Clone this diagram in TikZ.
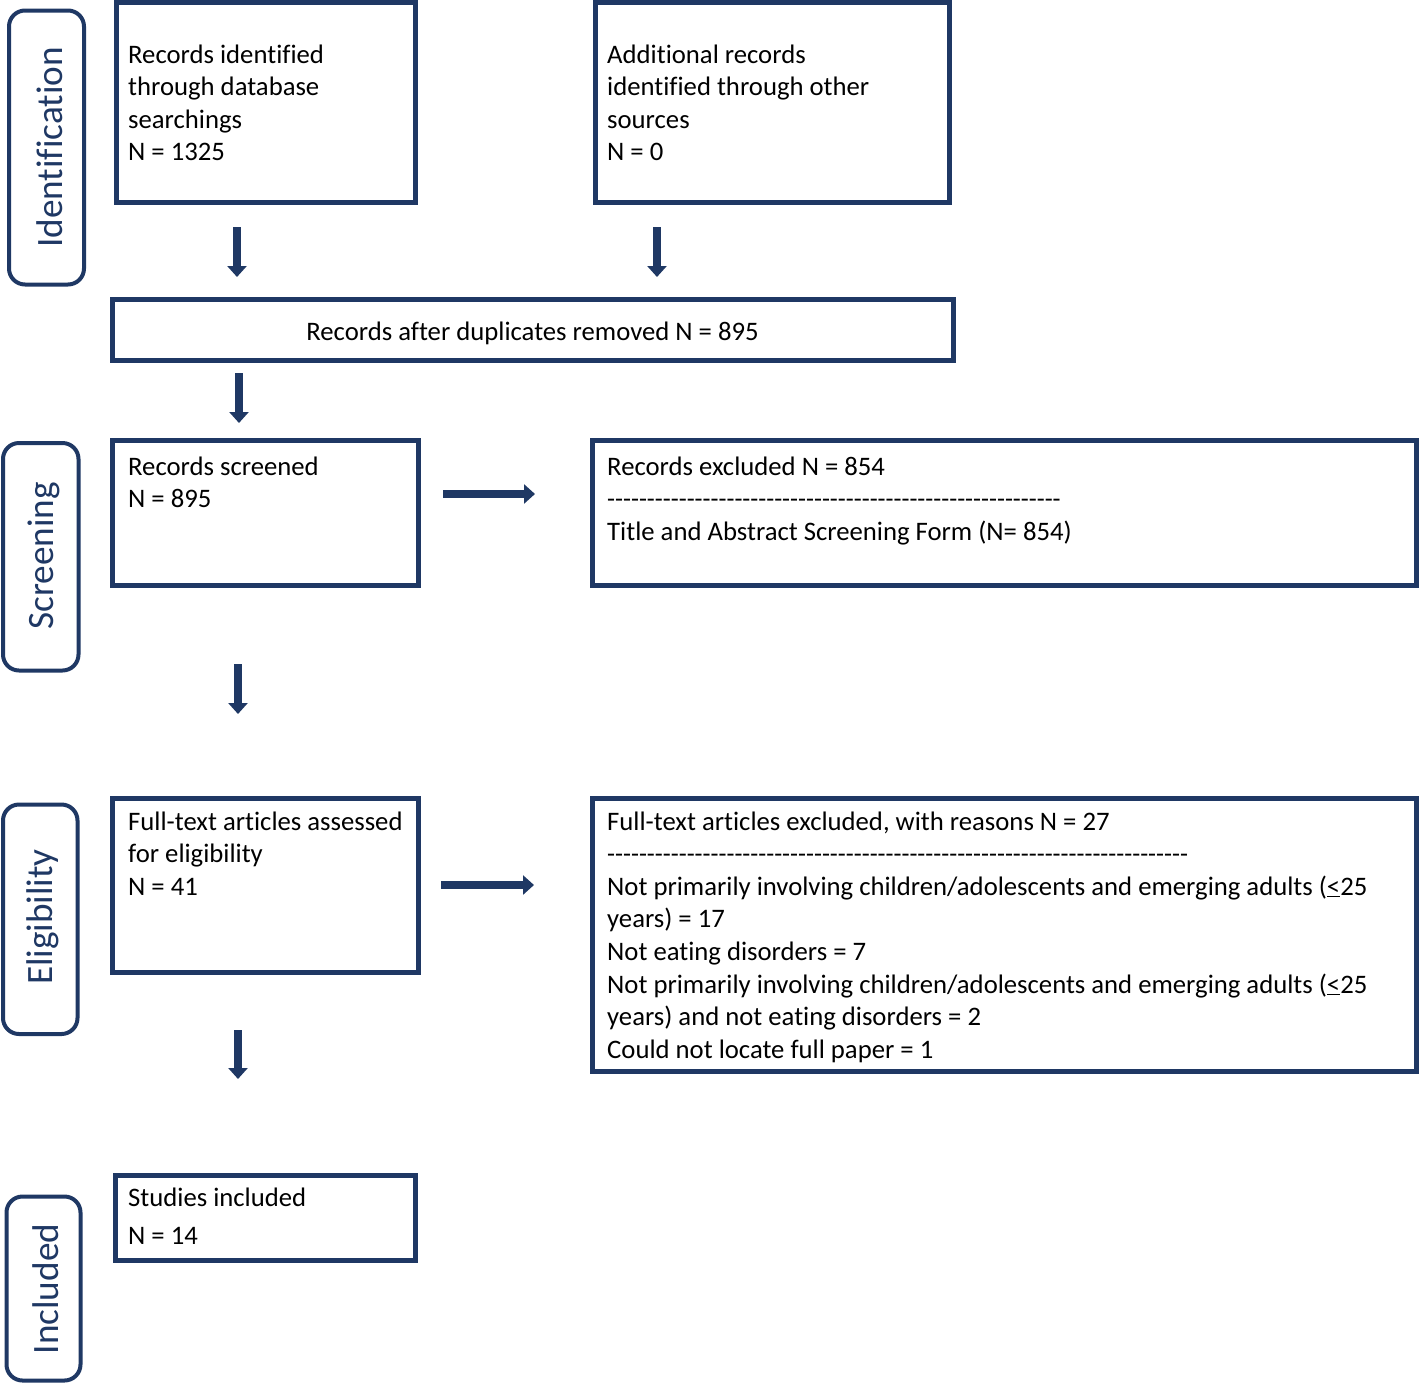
\documentclass[tikz,border=0pt]{standalone}
\usepackage{fontspec}
\setmainfont{Carlito}[Ligatures={NoCommon}]
\usetikzlibrary{arrows.meta,calc}
\definecolor{navy}{HTML}{1F3864}
\newcommand\mydashes[1]{{\fontsize{26}{32.6}\selectfont\foreach \k in {1,...,#1}{-\kern0pt}}}
\newcommand\lns[1]{\parbox[t]{900pt}{#1}}
\begin{document}
\begin{tikzpicture}[x=1pt,y=-1pt,
  box/.style={draw=navy,line width=5pt,inner sep=0pt,outer sep=0pt,anchor=north west},
  side/.style={draw=navy,line width=4pt,rounded corners=16pt,inner sep=0pt,outer sep=0pt,anchor=north west},
  sidetxt/.style={text=navy,rotate=90,anchor=base,inner sep=0pt,font=\fontsize{37.2}{40}\selectfont},
  txt/.style={anchor=base west,inner sep=0pt,font=\fontsize{26.7}{32.6}\selectfont},
  arr/.style={draw=navy,line width=8pt,-{Triangle[width=19pt,length=11pt]}}]
\useasboundingbox (0,0) rectangle (1419,1385);
% side labels
\node[side,minimum width=75pt,minimum height=274pt] (sI) at (9,10.5) {};
\node[side,minimum width=75.5pt,minimum height=227.5pt] (sS) at (3,443) {};
\node[side,minimum width=74.5pt,minimum height=229.5pt] (sE) at (3,804.5) {};
\node[side,minimum width=74pt,minimum height=184pt] (sN) at (6.5,1196.5) {};
\node[sidetxt] (tI) at (62,147.5) {Identification};
\node[sidetxt] (tS) at (53,556) {Screening};
\node[sidetxt] (tE) at (52,917) {Eligibility};
\node[sidetxt] (tN) at (58,1289) {Included};
% boxes
\node[box,minimum width=299.5pt,minimum height=200pt] (A) at (116,2.5) {};
\node[box,minimum width=354pt,minimum height=200pt] (B) at (595.5,2.5) {};
\node[box,minimum width=841.5pt,minimum height=61pt] (dup) at (112,299.5) {};
\node[box,minimum width=306pt,minimum height=145pt] (scr) at (112.5,440.5) {};
\node[box,minimum width=823.5pt,minimum height=145pt] (ex1) at (592.5,440.5) {};
\node[box,minimum width=306pt,minimum height=174pt] (ft) at (112.5,798.5) {};
\node[box,minimum width=823.5pt,minimum height=273pt] (ex2) at (592.5,798.5) {};
\node[box,minimum width=300pt,minimum height=85pt] (inc) at (115.5,1175.5) {};
% texts
\node[txt] (tA) at (128,63) {\lns{Records identified\\through database\\searchings\\N = 1325}};
\node[txt] (tB) at (607,63) {\lns{Additional records\\identified through other\\sources\\N = 0}};
\node[txt,anchor=base] (tdup) at (532.5,340) {Records after duplicates removed N = 895};
\node[txt] (tscr) at (128,475) {\lns{Records screened\\N = 895}};
\node[txt] (tex1) at (607,475) {\lns{Records excluded N = 854\\\mydashes{57}\\Title and Abstract Screening Form (N= 854)}};
\node[txt] (tft) at (128,830) {\lns{Full-text articles assessed\\for eligibility\\N = 41}};
\node[txt] (tex2) at (607,830) {\lns{Full-text articles excluded, with reasons N = 27\\\mydashes{73}\\Not primarily involving children/adolescents and emerging adults (\underline{<}25\\years) = 17\\Not eating disorders = 7\\Not primarily involving children/adolescents and emerging adults (\underline{<}25\\years) and not eating disorders = 2\\Could not locate full paper = 1}};
\node[txt] (tinc) at (128,1206) {\lns{Studies included\\[5.4pt]N = 14}};
% arrows
\draw[arr] ($(A.south west)+(121,24.5)$) -- ($(dup.north west)+(125,-22.5)$);
\draw[arr] ($(B.south west)+(61.5,24.5)$) -- ($(dup.north west)+(545,-22.5)$);
\draw[arr] ($(dup.south west)+(127,12.5)$) -- ($(scr.north west)+(126.5,-17.5)$);
\draw[arr] ($(scr.north east)+(24.5,53.5)$) -- ($(ex1.north west)+(-57.5,53.5)$);
\draw[arr] ($(scr.south west)+(125.5,78.5)$) -- ($(ft.north west)+(125.5,-84.5)$);
\draw[arr] ($(ft.north east)+(22.5,86.5)$) -- ($(ex2.north west)+(-58.5,86.5)$);
\draw[arr] ($(ft.south west)+(125.5,57.5)$) -- ($(inc.north west)+(122.5,-96.5)$);
\end{tikzpicture}
\end{document}
